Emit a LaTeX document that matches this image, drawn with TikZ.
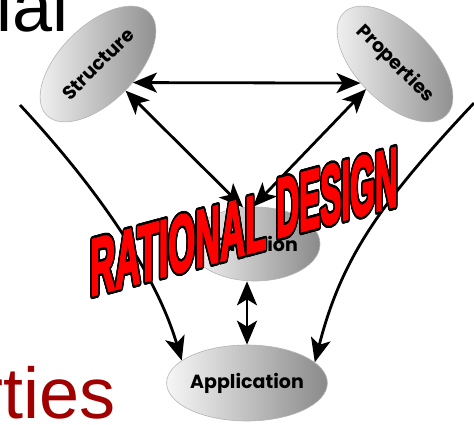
\documentclass[tikz,border=0pt]{standalone}
\usepackage{fontspec}
\setmainfont{Liberation Sans}
\newfontfamily\labelfont{Poppins}
\newfontfamily\artfont{Liberation Sans}[BoldFeatures={FakeBold=3}, FakeStretch=0.75]
\usetikzlibrary{arrows.meta,shapes.geometric}

\definecolor{slidered}{RGB}{160,0,0}
\definecolor{bubbleedge}{RGB}{180,180,180}
\definecolor{bubblelight}{RGB}{246,246,246}
\definecolor{bubbledark}{RGB}{138,138,138}
\definecolor{artred}{RGB}{255,0,0}

% text with a dark rim: shifted copies underneath, fill colour on top
\newcommand\rimtext[1]{%
  \foreach \rimang in {0,22.5,...,337.5}{%
    \pgfmathsetlengthmacro\rimdx{1.5pt*cos(\rimang)}%
    \pgfmathsetlengthmacro\rimdy{1.5pt*sin(\rimang)}%
    \rlap{\kern\rimdx\raisebox{\rimdy}{\color{black}#1}}}%
  {\color{artred}#1}}

\tikzset{
  bubble/.style={ellipse, draw=bubbleedge, line width=0.6pt,
    left color=bubblelight, right color=bubbledark,
    minimum width=145pt, minimum height=76pt, inner sep=0pt,
    font=\labelfont\bfseries\fontsize{19}{20}\selectfont, text=black},
  link/.style={line width=2.8pt, ->},
  twoway/.style={line width=2.8pt, <->},
  slidetext/.style={anchor=base west, inner sep=0pt,
    font=\fontsize{72}{80}\selectfont},
  wordart/.style={anchor=base west, inner sep=0pt, yslant=0.27,
    font=\artfont\bfseries\fontsize{48}{48}\selectfont},
}

\begin{document}
\begin{tikzpicture}[x=1pt, y=1pt, >={Stealth[length=24pt, width=20pt, inset=6pt]}]
  \clip (0,0) rectangle (474,424);
  \fill[white] (0,0) rectangle (474,424);

  % fragments of the slide titles
  \node[slidetext] (title) at (-4,392) {ial};
  \node[slidetext, text=slidered] (subtitle) at (-21,6) {rties};

  % the four bubbles
  \node[bubble, rotate=45]  (S) at (98,360) {Structure};
  \node[bubble, rotate=-45] (P) at (395,360) {Properties};
  \node[bubble, minimum width=130pt, minimum height=74pt] (F) at (255,180) {Function};
  \node[bubble] (A) at (247,41) {Application};

  % two-way links between the bubbles
  \draw[twoway] (S.-73) -- (P.-106);
  \draw[twoway] (S.-89) -- (F.108);
  \draw[twoway] (P.-94) -- (F.93);
  \draw[twoway] (F.south -| A.north) -- (A.north);

  % side arrows sweeping down to the application
  \coordinate (L0) at (20,319);
  \coordinate (R0) at (474,321);
  \draw[link] (L0) .. controls (88,246) and (154,157) .. (A.161);
  \draw[link] (R0) .. controls (378,219) and (341,164) .. (A.17);

  % banner across the middle
  \node[wordart, xscale=0.96, yscale=1.68] (rat) at (90,128) {\rimtext{RATIONAL}};
  \node[wordart, xscale=0.88, yscale=1.75] (des) at (276,186) {\rimtext{DESIGN}};
\end{tikzpicture}
\end{document}
